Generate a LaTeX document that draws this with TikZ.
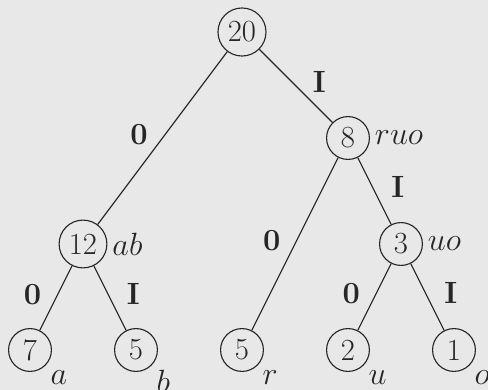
\documentclass[tikz,border=0pt]{standalone}
\definecolor{bgfill}{HTML}{E8E8E8}
\definecolor{ink}{HTML}{262626}
\tikzset{
  treenode/.style={circle, draw=ink, line width=0.6pt, text=ink,
    inner sep=2.5pt, minimum size=23pt},
  tag/.style={anchor=west, inner sep=2.5pt, text=ink},
  leaftag/.style={anchor=north west, inner sep=2.5pt, text=ink},
  branch/.style={draw=ink, line width=0.6pt},
  bitleft/.style={midway, xshift=-0.44cm, yshift=0.07cm, text=ink},
  bitright/.style={midway, xshift=0.44cm, yshift=0.07cm, text=ink},
}
\begin{document}
\begin{tikzpicture}[x=2cm, y=2cm, font=\fontsize{16.5}{20}\selectfont]
  % canvas
  \fill[bgfill] (-0.283,-0.377) rectangle (4.321,3.302);
  \useasboundingbox (-0.283,-0.377) rectangle (4.321,3.302);

  % internal nodes
  \node[treenode] (n20) at (2,3) {20};
  \node[treenode] (n8)  at (3,2) {8};
  \node[treenode] (n12) at (0.5,1) {12};
  \node[treenode] (n3)  at (3.5,1) {3};

  % leaves
  \node[treenode] (la) at (0,0) {7};
  \node[treenode] (lb) at (1,0) {5};
  \node[treenode] (lr) at (2,0) {5};
  \node[treenode] (lu) at (3,0) {2};
  \node[treenode] (lo) at (4,0) {1};

  % symbol sets beside the nodes
  \node[tag] (t8)  at (n8.east)  {$ruo$};
  \node[tag] (t12) at (n12.east) {$ab$};
  \node[tag] (t3)  at (n3.east)  {$uo$};
  \node[leaftag] (ta) at (la.south east) {$a$};
  \node[leaftag] (tb) at (lb.south east) {$b$};
  \node[leaftag] (tr) at (lr.south east) {$r$};
  \node[leaftag] (tu) at (lu.south east) {$u$};
  \node[leaftag] (to) at (lo.south east) {$o$};

  % branches with their code bits
  \draw[branch] (n20) -- (n12) node[bitleft]  {\textbf{0}};
  \draw[branch] (n20) -- (n8)  node[bitright] {\textbf{I}};
  \draw[branch] (n8)  -- (lr)  node[bitleft]  {\textbf{0}};
  \draw[branch] (n8)  -- (n3)  node[bitright] {\textbf{I}};
  \draw[branch] (n12) -- (la)  node[bitleft]  {\textbf{0}};
  \draw[branch] (n12) -- (lb)  node[bitright] {\textbf{I}};
  \draw[branch] (n3)  -- (lu)  node[bitleft]  {\textbf{0}};
  \draw[branch] (n3)  -- (lo)  node[bitright] {\textbf{I}};
\end{tikzpicture}
\end{document}
